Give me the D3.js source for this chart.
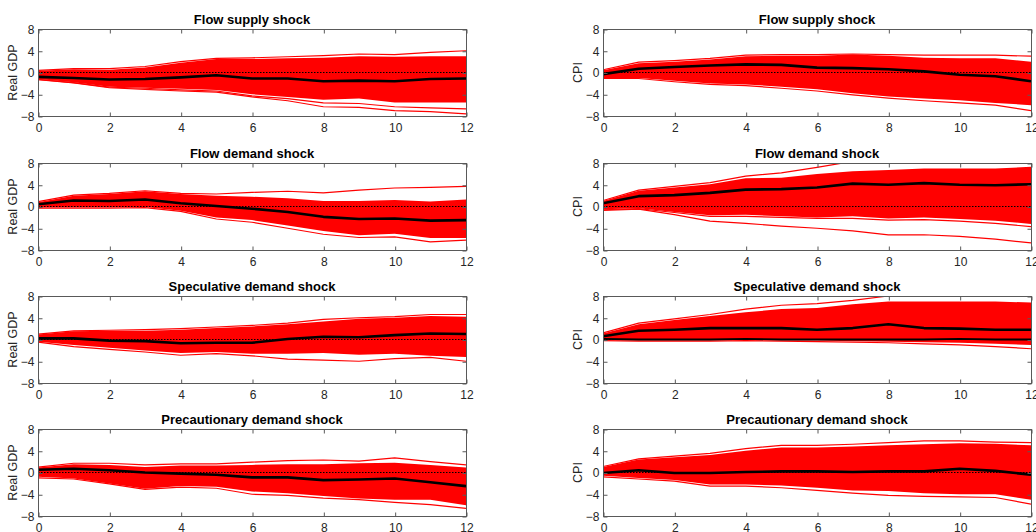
<!DOCTYPE html>
<html><head><meta charset="utf-8">
<script src="https://cdn.jsdelivr.net/npm/d3@7"></script>
<style>
html,body{margin:0;padding:0;background:#fff;}
svg{display:block;font-family:"Liberation Sans",Arial,Helvetica,sans-serif;}
</style></head>
<body>
<svg id="chart" width="1036" height="532"></svg>
<script>
// ---- data ----
const horizons = [0,1,2,3,4,5,6,7,8,9,10,11,12];
const xTicks = [0,2,4,6,8,10,12];
const yTicks = [-8,-4,0,4,8];
const shocks = ["Flow supply shock","Flow demand shock","Speculative demand shock","Precautionary demand shock"];
const variables = ["Real GDP","CPI"];

// Real GDP
const gdpSupplyMed   = [-0.8,-1.0,-1.3,-1.2,-0.9,-0.5,-1.1,-1.1,-1.6,-1.5,-1.6,-1.2,-1.1];
const gdpSupplyHi    = [0.3,0.6,0.5,0.9,1.8,2.5,2.5,2.6,2.7,3.0,2.9,3.0,3.0];
const gdpSupplyLo    = [-1.2,-1.8,-2.6,-2.8,-3.0,-3.2,-4.0,-4.5,-5.0,-4.8,-5.5,-5.5,-5.5];
const gdpSupplyOutHi = [0.4,0.7,0.7,1.1,2.0,2.6,2.7,2.9,3.1,3.4,3.3,3.7,4.0];
const gdpSupplyOutLo = [-1.3,-1.9,-2.8,-3.1,-3.4,-3.6,-4.5,-5.2,-6.3,-6.4,-7.0,-7.2,-7.6];
const gdpSupplyMidLo = [-1.25,-1.85,-2.7,-2.9,-3.2,-3.4,-4.3,-4.8,-5.6,-5.7,-6.3,-6.5,-6.7];

const gdpDemandMed   = [0.4,1.1,1.0,1.3,0.6,0.1,-0.4,-1.0,-1.9,-2.3,-2.2,-2.6,-2.5];
const gdpDemandHi    = [0.8,2.0,2.3,2.8,2.3,2.0,1.8,1.5,1.0,1.0,1.2,0.9,1.3];
const gdpDemandLo    = [-0.2,-0.2,-0.2,-0.1,-0.8,-2.0,-2.5,-3.5,-4.5,-5.3,-5.0,-5.8,-5.8];
const gdpDemandOutHi = [0.9,2.1,2.4,2.9,2.4,2.3,2.6,2.8,2.5,3.0,3.4,3.5,3.7];
const gdpDemandOutLo = [-0.3,-0.3,-0.3,-0.2,-0.9,-2.3,-2.9,-4.0,-5.1,-5.7,-5.6,-6.5,-6.2];

const gdpSpecMed   = [0.2,0.2,-0.2,-0.3,-0.7,-0.6,-0.6,0.1,0.5,0.4,0.8,1.1,1.0];
const gdpSpecHi    = [0.9,1.5,1.6,1.6,1.8,2.1,2.4,2.8,3.3,3.8,4.0,4.3,4.2];
const gdpSpecLo    = [-0.4,-1.0,-1.5,-2.0,-2.5,-2.3,-2.6,-2.6,-2.5,-2.8,-2.6,-3.0,-3.2];
const gdpSpecOutHi = [1.0,1.6,1.7,1.8,2.0,2.3,2.6,3.0,3.7,4.0,4.2,4.6,4.6];
const gdpSpecOutLo = [-0.5,-1.3,-1.8,-2.3,-2.9,-2.6,-3.0,-3.6,-3.8,-4.0,-3.5,-3.3,-4.0];

const gdpPrecMed   = [0.5,0.7,0.4,0.0,-0.2,-0.4,-0.9,-0.9,-1.4,-1.3,-1.1,-1.8,-2.5];
const gdpPrecHi    = [0.9,1.5,1.4,1.0,1.3,1.3,1.4,1.5,1.5,1.7,1.8,1.4,0.9];
const gdpPrecLo    = [-0.8,-1.1,-2.0,-3.0,-2.5,-2.6,-3.5,-3.8,-4.3,-4.8,-5.0,-5.0,-6.0];
const gdpPrecOutHi = [1.0,1.7,1.7,1.4,1.6,1.6,1.9,2.2,2.3,2.1,2.7,2.0,1.4];
const gdpPrecOutLo = [-1.0,-1.2,-2.1,-3.1,-2.7,-2.9,-4.0,-4.2,-4.7,-5.0,-5.5,-5.9,-6.6];

// CPI
const cpiSupplyMed   = [-0.3,0.7,1.0,1.3,1.5,1.4,0.9,0.8,0.6,0.2,-0.4,-0.7,-1.6];
const cpiSupplyHi    = [0.4,1.7,2.0,2.4,3.0,3.1,3.1,3.3,3.1,2.7,2.6,2.6,2.0];
const cpiSupplyLo    = [-1.0,-1.0,-1.5,-2.0,-2.2,-2.6,-3.1,-3.8,-4.4,-4.8,-5.1,-5.6,-6.0];
const cpiSupplyOutHi = [0.5,1.9,2.2,2.6,3.2,3.3,3.3,3.4,3.3,3.2,3.2,3.2,3.0];
const cpiSupplyOutLo = [-1.1,-1.1,-1.7,-2.2,-2.4,-2.9,-3.4,-4.1,-4.7,-5.2,-5.6,-6.0,-7.0];

const cpiDemandMed   = [0.6,1.9,2.1,2.5,3.1,3.2,3.5,4.2,4.0,4.3,4.0,3.9,4.1];
const cpiDemandHi    = [1.0,2.9,3.5,4.1,5.2,5.3,6.0,6.5,6.7,7.0,7.0,7.0,7.3];
const cpiDemandLo    = [-0.5,-0.3,-1.0,-1.6,-1.5,-1.8,-2.0,-1.8,-2.2,-2.0,-2.3,-2.6,-3.2];
const cpiDemandOutHi = [1.1,3.0,3.7,4.4,5.6,6.2,7.2,8.3,8.5,8.5,8.5,8.5,8.5];
const cpiDemandOutLo = [-0.7,-0.5,-1.5,-2.7,-3.1,-3.6,-4.0,-4.5,-5.2,-5.2,-5.5,-6.0,-6.7];
const cpiDemandMidLo = [-0.6,-0.4,-1.1,-1.8,-1.8,-2.0,-2.2,-2.2,-2.5,-2.4,-2.7,-3.1,-3.7];

const cpiSpecMed   = [0.6,1.6,1.8,2.1,2.1,2.1,1.8,2.1,2.8,2.1,2.0,1.8,1.8];
const cpiSpecHi    = [1.1,2.8,3.6,4.3,5.0,5.6,5.8,6.5,7.0,7.0,7.0,7.0,6.8];
const cpiSpecLo    = [-0.1,-0.2,-0.2,-0.2,-0.1,-0.2,-0.2,-0.3,-0.4,-0.5,-0.6,-0.8,-1.0];
const cpiSpecOutHi = [1.2,3.0,3.8,4.6,5.6,6.3,6.6,7.2,8.0,8.2,8.2,8.0,8.0];
const cpiSpecOutLo = [-0.2,-0.3,-0.3,-0.3,-0.2,-0.3,-0.4,-0.5,-0.6,-0.8,-1.0,-1.3,-1.7];
const cpiSpecLowBlack = [0.1,0.0,0.0,0.0,0.1,0.0,0.0,0.0,0.0,0.0,0.1,0.0,0.0];

const cpiPrecMed   = [-0.1,0.4,-0.1,-0.1,0.1,0.2,0.2,0.1,0.2,0.2,0.7,0.3,-0.4];
const cpiPrecHi    = [1.0,2.4,2.8,3.2,4.0,4.6,4.6,4.8,5.0,5.2,5.4,5.3,5.0];
const cpiPrecLo    = [-0.6,-1.0,-1.4,-2.2,-2.2,-2.4,-2.8,-3.3,-3.4,-3.8,-4.0,-4.0,-5.0];
const cpiPrecOutHi = [1.1,2.5,3.0,3.5,4.4,5.0,5.0,5.2,5.5,5.8,5.8,5.6,5.5];
const cpiPrecOutLo = [-0.8,-1.2,-1.6,-2.5,-2.5,-2.8,-3.3,-3.8,-4.2,-4.4,-4.5,-4.6,-5.8];

// [median, hi, lo, extra red lines, extra black lines]
const panels = [
  [[gdpSupplyMed,gdpSupplyHi,gdpSupplyLo,[gdpSupplyOutHi,gdpSupplyOutLo,gdpSupplyMidLo],[]],
   [cpiSupplyMed,cpiSupplyHi,cpiSupplyLo,[cpiSupplyOutHi,cpiSupplyOutLo],[]]],
  [[gdpDemandMed,gdpDemandHi,gdpDemandLo,[gdpDemandOutHi,gdpDemandOutLo],[]],
   [cpiDemandMed,cpiDemandHi,cpiDemandLo,[cpiDemandOutHi,cpiDemandOutLo,cpiDemandMidLo],[]]],
  [[gdpSpecMed,gdpSpecHi,gdpSpecLo,[gdpSpecOutHi,gdpSpecOutLo],[]],
   [cpiSpecMed,cpiSpecHi,cpiSpecLo,[cpiSpecOutHi,cpiSpecOutLo],[cpiSpecLowBlack]]],
  [[gdpPrecMed,gdpPrecHi,gdpPrecLo,[gdpPrecOutHi,gdpPrecOutLo],[]],
   [cpiPrecMed,cpiPrecHi,cpiPrecLo,[cpiPrecOutHi,cpiPrecOutLo],[]]]
];

// ---- layout ----
const svg = d3.select("#chart");
const colLeft = [38, 603];
const plotW = 428;
const rowTop = [29, 163, 296, 429];
const plotH = 87;
const axisColor = "#262626";
const tickColor = "#262626";
const boxColor = "#595959";

shocks.forEach((shock, r) => {
  variables.forEach((vname, c) => {
    const [med, hi, lo, redLines, blackLines] = panels[r][c];
    const x0 = colLeft[c], y0 = rowTop[r];
    const x = d3.scaleLinear().domain([0,12]).range([x0, x0+plotW]);
    const y = d3.scaleLinear().domain([-8,8]).range([y0+plotH, y0]);
    const id = `clip-${r}-${c}`;
    svg.append("clipPath").attr("id", id).append("rect")
      .attr("x", x0).attr("y", y0).attr("width", plotW).attr("height", plotH);
    const g = svg.append("g");
    const pg = g.append("g").attr("clip-path", `url(#${id})`);

    const area = d3.area().x((d,i)=>x(horizons[i])).y0((d,i)=>y(lo[i])).y1((d,i)=>y(hi[i]));
    pg.append("path").datum(hi).attr("d", area).attr("fill", "#ff0000");
    const line = d3.line().x((d,i)=>x(horizons[i])).y(d=>y(d));
    redLines.forEach(s => {
      pg.append("path").datum(s).attr("d", line).attr("fill","none")
        .attr("stroke","#ff0000").attr("stroke-width",1.2);
    });
    pg.append("line").attr("x1", x(0)).attr("x2", x(12)).attr("y1", y(0)).attr("y2", y(0))
      .attr("stroke","#000").attr("stroke-width",1).attr("stroke-dasharray","1.5,1.5");
    blackLines.forEach(s => {
      pg.append("path").datum(s).attr("d", line).attr("fill","none")
        .attr("stroke","#000").attr("stroke-width",1.8);
    });
    pg.append("path").datum(med).attr("d", line).attr("fill","none")
      .attr("stroke","#000").attr("stroke-width",2.6).attr("stroke-linejoin","round");

    g.append("rect").attr("x", x0+0.5).attr("y", y0+0.5).attr("width", plotW).attr("height", plotH)
      .attr("fill","none").attr("stroke", boxColor).attr("stroke-width",1);

    const xb = g.append("g").attr("transform", `translate(0.5,${y0+plotH+0.5})`)
      .call(d3.axisBottom(x).tickValues(xTicks).tickSize(-4).tickPadding(7).tickFormat(d3.format("d")));
    const xt = g.append("g").attr("transform", `translate(0.5,${y0+0.5})`)
      .call(d3.axisTop(x).tickValues(xTicks).tickSize(-4).tickFormat(""));
    const yl = g.append("g").attr("transform", `translate(${x0+0.5},0.5)`)
      .call(d3.axisLeft(y).tickValues(yTicks).tickSize(-4).tickPadding(4).tickFormat(d3.format("d")));
    const yr = g.append("g").attr("transform", `translate(${x0+plotW+0.5},0.5)`)
      .call(d3.axisRight(y).tickValues(yTicks).tickSize(-4).tickFormat(""));
    [xb,xt,yl,yr].forEach(a => {
      a.select(".domain").remove();
      a.selectAll(".tick line").attr("stroke", boxColor);
      a.selectAll("text").attr("fill", tickColor).style("font-size","12px")
        .style("font-family",'"Liberation Sans",Arial,sans-serif');
    });

    g.append("text").attr("x", x0 + plotW/2).attr("y", y0 - 5)
      .attr("text-anchor","middle").attr("fill","#000")
      .style("font-size","13px").style("font-weight","bold").text(shock);
    g.append("text").attr("transform", `translate(${x0-21},${y0+plotH/2}) rotate(-90)`)
      .attr("text-anchor","middle").attr("fill", axisColor)
      .style("font-size","12.5px").text(vname);
  });
});
</script>
</body></html>
